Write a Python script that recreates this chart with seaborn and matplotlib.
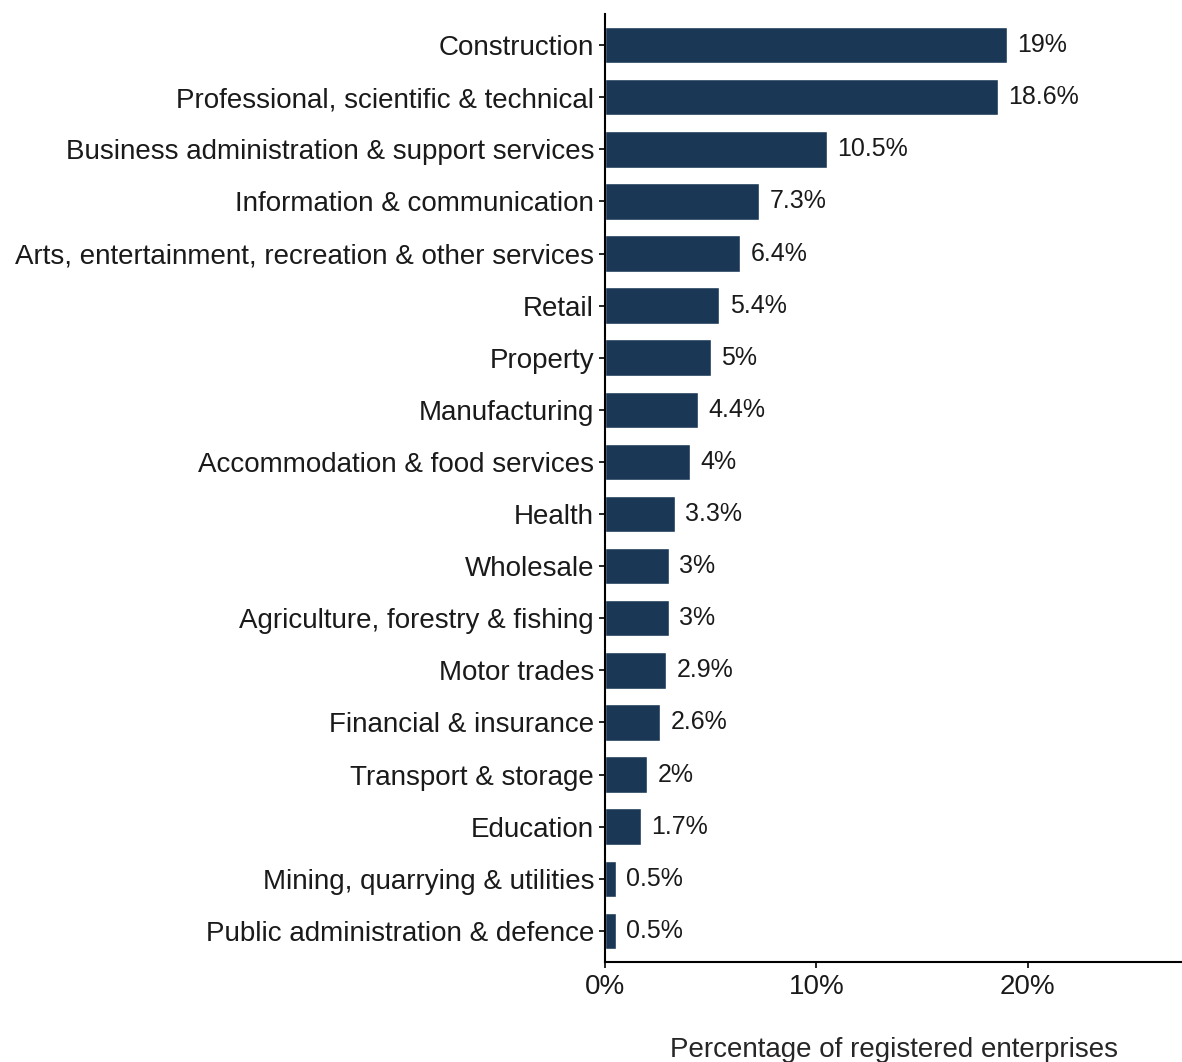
import pandas as pd
import seaborn as sns
import matplotlib.pyplot as plt
from matplotlib.ticker import FuncFormatter

sns.set_theme(style="ticks")
plt.rcParams["font.family"] = ["Liberation Sans", "DejaVu Sans"]

# Share of registered enterprises by industry
industries = [
    "Construction",
    "Professional, scientific & technical",
    "Business administration & support services",
    "Information & communication",
    "Arts, entertainment, recreation & other services",
    "Retail",
    "Property",
    "Manufacturing",
    "Accommodation & food services",
    "Health",
    "Wholesale",
    "Agriculture, forestry & fishing",
    "Motor trades",
    "Financial & insurance",
    "Transport & storage",
    "Education",
    "Mining, quarrying & utilities",
    "Public administration & defence",
]
shares = [19, 18.6, 10.5, 7.3, 6.4, 5.4, 5, 4.4, 4, 3.3, 3, 3, 2.9, 2.6, 2, 1.7, 0.5, 0.5]
share_labels = ["19%", "18.6%", "10.5%", "7.3%", "6.4%", "5.4%", "5%", "4.4%", "4%",
                "3.3%", "3%", "3%", "2.9%", "2.6%", "2%", "1.7%", "0.5%", "0.5%"]

df = pd.DataFrame({"industry": industries, "share": shares})

fig = plt.figure(figsize=(11.82, 10.62), dpi=100)
ax = fig.add_axes([0.512, 0.094, 0.488, 0.893])

sns.barplot(data=df, x="share", y="industry", color="#1a3855", saturation=1,
            width=0.7, orient="h", ax=ax)

for i, (v, lab) in enumerate(zip(shares, share_labels)):
    ax.annotate(lab, (v, i), xytext=(7.5, 0), textcoords="offset points",
                va="center", ha="left", fontsize=18, color="#1a1a1a")

ax.set_xlim(0, 27.3)
ax.set_ylim(17.6, -0.6)
ax.set_xticks([0, 10, 20])
ax.xaxis.set_major_formatter(FuncFormatter(lambda x, p: f"{x:.0f}%"))
ax.set_ylabel("")
ax.set_xlabel("Percentage of registered enterprises", fontsize=20, labelpad=27)
ax.tick_params(axis="y", labelsize=20, length=4, width=1.2, color="black",
               labelcolor="#1a1a1a", pad=4)
ax.tick_params(axis="x", labelsize=20, length=4, width=1.2, color="black",
               labelcolor="#1a1a1a", pad=4.5)
for side in ["top", "right"]:
    ax.spines[side].set_visible(False)
for side in ["left", "bottom"]:
    ax.spines[side].set_linewidth(1.5)
    ax.spines[side].set_color("black")

plt.savefig("out.png", dpi=100)
